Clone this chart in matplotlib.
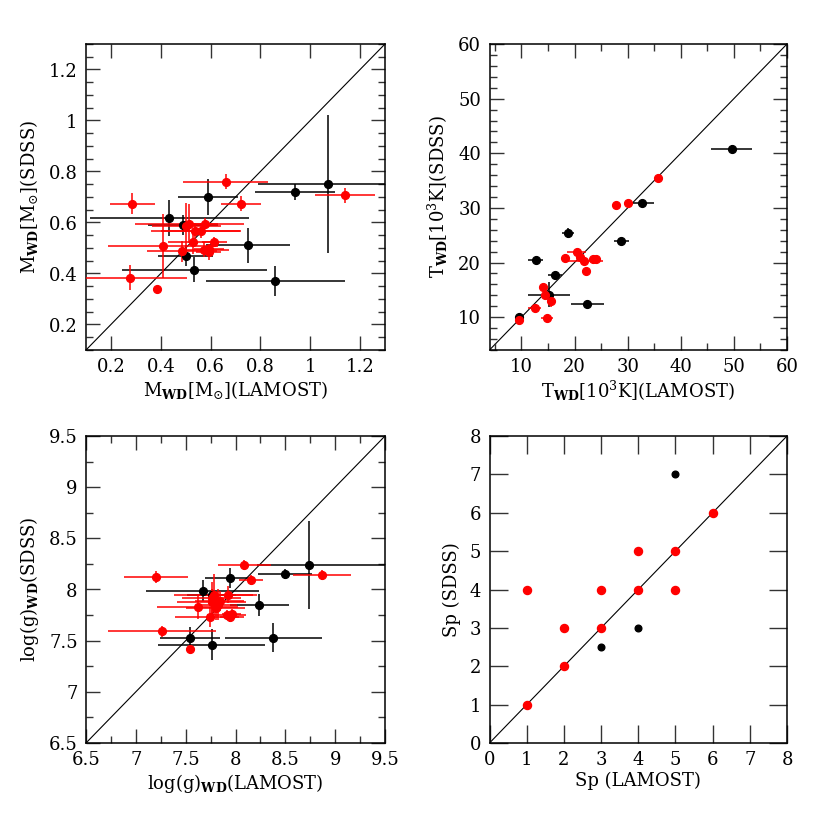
import matplotlib
matplotlib.use("Agg")
import matplotlib.pyplot as plt
from matplotlib.ticker import MultipleLocator, FuncFormatter, NullLocator

plt.rcParams['font.family'] = ['DejaVu Serif']
plt.rcParams['mathtext.fontset'] = 'dejavuserif'

# ---------------- Panel 1: WD mass ----------------
m_lam_b = [1.07, 0.94, 0.59, 0.435, 0.49, 0.75, 0.50, 0.535, 0.86]
m_sdss_b = [0.75, 0.72, 0.70, 0.617, 0.59, 0.51, 0.47, 0.415, 0.37]
m_lam_b_err = [0.28, 0.16, 0.12, 0.32, 0.14, 0.17, 0.11, 0.29, 0.28]
m_sdss_b_err = [0.27, 0.03, 0.07, 0.07, 0.04, 0.07, 0.04, 0.05, 0.06]

m_lam_r = [0.66, 0.286, 0.722, 1.14, 0.515, 0.503, 0.579, 0.539, 0.563, 0.529,
           0.614, 0.41, 0.486, 0.573, 0.595, 0.593, 0.277, 0.383]
m_sdss_r = [0.76, 0.674, 0.674, 0.707, 0.596, 0.585, 0.596, 0.568, 0.568, 0.525,
            0.525, 0.507, 0.487, 0.493, 0.496, 0.483, 0.384, 0.341]
m_lam_r_err = [0.17, 0.09, 0.08, 0.12, 0.22, 0.14, 0.05, 0.18, 0.16, 0.10,
               0.05, 0.22, 0.14, 0.10, 0.06, 0.05, 0.23, 0.0]
m_sdss_r_err = [0.03, 0.04, 0.03, 0.03, 0.075, 0.09, 0.02, 0.03, 0.03, 0.05,
                0.02, 0.125, 0.04, 0.03, 0.02, 0.03, 0.05, 0.0]

# ---------------- Panel 2: WD temperature ----------------
t_lam_b = [49.6, 32.7, 18.8, 28.8, 12.7, 16.4, 15.2, 22.4, 9.6]
t_sdss_b = [40.8, 30.9, 25.4, 24.0, 20.4, 17.8, 14.1, 12.4, 10.1]
t_lam_b_err = [3.9, 2.3, 1.1, 1.4, 1.4, 1.3, 3.9, 3.1, 0.0]
t_sdss_b_err = [0.8, 0.3, 0.9, 0.3, 0.3, 0.3, 2.3, 0.3, 0.0]

t_lam_r = [35.8, 27.8, 30.1, 20.4, 18.2, 21.0, 21.8, 23.5, 24.0, 22.1,
           14.1, 14.4, 15.6, 12.5, 14.8, 9.6]
t_sdss_r = [35.4, 30.5, 30.9, 21.9, 20.9, 21.1, 20.2, 20.6, 20.6, 18.4,
            15.6, 14.1, 13.0, 11.6, 9.8, 9.4]
t_lam_r_err = [0.0, 0.0, 0.0, 1.8, 0.0, 0.6, 3.5, 0.6, 0.6, 0.0,
               0.5, 0.5, 0.0, 1.2, 1.2, 0.0]
t_sdss_r_err = [0.0, 0.0, 0.0, 0.4, 0.0, 0.3, 0.3, 0.3, 0.3, 0.0,
                0.4, 0.3, 1.1, 0.3, 0.3, 0.0]

# ---------------- Panel 3: log g ----------------
g_lam_b = [8.74, 8.50, 7.94, 7.67, 7.76, 8.24, 8.38, 7.54, 7.76]
g_sdss_b = [8.24, 8.15, 8.11, 7.99, 7.95, 7.85, 7.53, 7.53, 7.46]
g_lam_b_err_lo = [0.52, 0.27, 0.25, 0.57, 0.25, 0.30, 0.49, 0.30, 0.54]
g_lam_b_err_hi = [0.80, 0.27, 0.25, 0.57, 0.25, 0.30, 0.49, 0.30, 0.54]
g_sdss_b_err = [0.43, 0.05, 0.10, 0.10, 0.05, 0.11, 0.14, 0.10, 0.15]

g_lam_r = [8.09, 8.87, 8.16, 7.20, 7.92, 7.76, 7.76, 7.84, 7.80, 7.82,
           7.62, 7.74, 7.91, 7.94, 7.96, 7.26, 7.54, 7.78]
g_sdss_r = [8.24, 8.14, 8.09, 8.12, 7.95, 7.92, 7.88, 7.89, 7.82, 7.85,
            7.83, 7.73, 7.75, 7.73, 7.76, 7.59, 7.42, 7.95]
g_lam_r_err = [0.27, 0.29, 0.12, 0.32, 0.30, 0.30, 0.35, 0.25, 0.30, 0.20,
               0.41, 0.35, 0.20, 0.10, 0.10, 0.54, 0.0, 0.40]
g_sdss_r_err = [0.05, 0.05, 0.05, 0.06, 0.08, 0.15, 0.12, 0.10, 0.12, 0.15,
                0.12, 0.10, 0.05, 0.05, 0.05, 0.05, 0.0, 0.20]

# ---------------- Panel 4: spectral type ----------------
sp_lam_b = [5, 3, 4]
sp_sdss_b = [7, 2.5, 3]
sp_lam_r = [1, 1, 2, 2, 3, 3, 4, 4, 5, 5, 6]
sp_sdss_r = [4, 1, 3, 2, 4, 3, 5, 4, 5, 4, 6]

fig = plt.figure(figsize=(8.3, 8.3), dpi=100)
W, H = 830.0, 830.0

def mkax(l, t, r, b):
    return fig.add_axes([l / W, 1 - b / H, (r - l) / W, (b - t) / H])

ax1 = mkax(86, 44, 385, 350)
ax2 = mkax(489.5, 44, 787, 350)
ax3 = mkax(86, 436, 385, 743)
ax4 = mkax(489.5, 436, 787, 743)

RED = '#ff0000'
fs = 13

def style(ax, lim, major, minor):
    ax.set_xlim(lim)
    ax.set_ylim(lim)
    ax.plot(lim, lim, color='black', lw=0.8, zorder=1)
    for a in (ax.xaxis, ax.yaxis):
        a.set_major_locator(MultipleLocator(major))
        if minor:
            a.set_minor_locator(MultipleLocator(minor))
        a.set_major_formatter(FuncFormatter(lambda v, p: ('%g' % round(v, 4))))
    ax.tick_params(which='both', direction='in', top=True, right=True,
                   labelsize=fs, width=1.0, color='#333333')
    ax.tick_params(which='major', length=10, pad=6)
    ax.tick_params(which='minor', length=5)
    for s in ax.spines.values():
        s.set_linewidth(1.1)

def eb(ax, x, y, xe, ye, color, ms=5.6):
    ax.errorbar(x, y, xerr=xe, yerr=ye, fmt='o', color=color, ms=ms,
                mec=color, mfc=color, elinewidth=1.1, capsize=0, zorder=3)

# panel 1
style(ax1, (0.1, 1.3), 0.2, 0.05)
ax1.xaxis.set_minor_locator(NullLocator())
eb(ax1, m_lam_b, m_sdss_b, m_lam_b_err, m_sdss_b_err, 'black')
eb(ax1, m_lam_r, m_sdss_r, m_lam_r_err, m_sdss_r_err, RED)
ax1.set_xlabel(r'M$_{\mathbf{WD}}$[M$_{\odot}$](LAMOST)', fontsize=fs, labelpad=2)
ax1.set_ylabel(r'M$_{\mathbf{WD}}$[M$_{\odot}$](SDSS)', fontsize=fs, labelpad=6)

# panel 2
style(ax2, (4, 60), 10, None)
ax2.xaxis.set_minor_locator(MultipleLocator(5))
ax2.yaxis.set_minor_locator(MultipleLocator(2))
ax2.tick_params(which='minor', length=5)
eb(ax2, t_lam_b, t_sdss_b, t_lam_b_err, t_sdss_b_err, 'black')
eb(ax2, t_lam_r, t_sdss_r, t_lam_r_err, t_sdss_r_err, RED)
ax2.set_xlabel(r'T$_{\mathbf{WD}}$[10$^{3}$K](LAMOST)', fontsize=fs, labelpad=2)
ax2.set_ylabel(r'T$_{\mathbf{WD}}$[10$^{3}$K](SDSS)', fontsize=fs, labelpad=6)

# panel 3
style(ax3, (6.5, 9.5), 0.5, 0.25)
eb(ax3, g_lam_b, g_sdss_b, [g_lam_b_err_lo, g_lam_b_err_hi], g_sdss_b_err, 'black')
eb(ax3, g_lam_r, g_sdss_r, g_lam_r_err, g_sdss_r_err, RED)
ax3.set_xlabel(r'log(g)$_{\mathbf{WD}}$(LAMOST)', fontsize=fs, labelpad=2)
ax3.set_ylabel(r'log(g)$_{\mathbf{WD}}$(SDSS)', fontsize=fs, labelpad=6)

# panel 4
style(ax4, (0, 8), 1, None)
ax4.tick_params(which='major', length=13)
ax4.plot(sp_lam_b, sp_sdss_b, 'o', color='black', ms=4.8, zorder=3)
ax4.plot(sp_lam_r, sp_sdss_r, 'o', color=RED, ms=5.8, zorder=3)
ax4.set_xlabel('Sp (LAMOST)', fontsize=fs, labelpad=2)
ax4.set_ylabel('Sp (SDSS)', fontsize=fs, labelpad=6)

fig.savefig('out.png', dpi=100)
